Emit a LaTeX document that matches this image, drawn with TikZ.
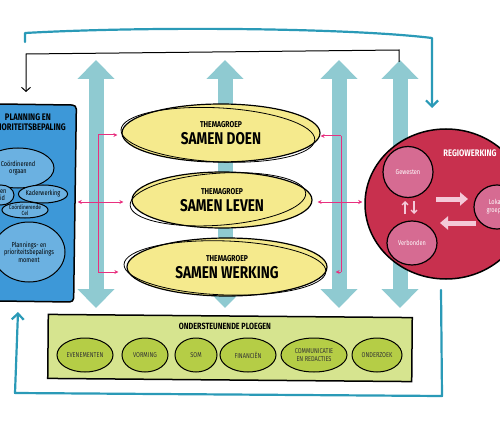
\documentclass[tikz,border=0pt]{standalone}
\usepackage{fontspec}
\setmainfont{Fira Sans}[FakeStretch=0.8]
\usetikzlibrary{shapes.geometric,arrows.meta}
\definecolor{tealarrow}{HTML}{8FCAD1}
\definecolor{tealline}{HTML}{2A9AB7}
\definecolor{planblue}{HTML}{3D98D8}
\definecolor{planlight}{HTML}{6BB1E1}
\definecolor{themayellow}{HTML}{F5EA8D}
\definecolor{regiored}{HTML}{C8304E}
\definecolor{regiopink}{HTML}{D66B92}
\definecolor{arrowpink}{HTML}{F4C9D8}
\definecolor{ploegbg}{HTML}{D6E48F}
\definecolor{ploegin}{HTML}{B5CD46}
\definecolor{linkpink}{HTML}{E8307F}

\begin{document}
\begin{tikzpicture}[x=1pt,y=-1pt,
    bigarrow/.style={line width=15pt,tealarrow,{Triangle[width=36pt,length=19pt]}-{Triangle[width=36pt,length=19pt]}},
    loopline/.style={line width=2.2pt,tealline,line join=round,line cap=round},
    thema/.style={ellipse,draw=black,line width=1.2pt,fill=themayellow,inner sep=0pt,align=center},
    scrib/.style={draw=black,line width=0.8pt},
    planin/.style={ellipse,draw=black,line width=1pt,fill=planlight,inner sep=0pt,align=center,font=\fontsize{7}{7.5}\selectfont},
    regioin/.style={ellipse,draw=black,line width=1.2pt,fill=regiopink,inner sep=0pt,align=center,text=white,font=\fontsize{7}{8}\selectfont},
    ploegin/.style={ellipse,draw=black,line width=1pt,fill=ploegin,inner sep=0pt,align=center,text=black!80,font=\fontsize{7}{7.5}\selectfont},
    link/.style={linkpink,line width=1pt,-{Stealth[length=4pt,width=4pt]}},
    pinkarrow/.style={arrowpink,line width=5pt,-{Triangle[width=13pt,length=8pt]}}]
    \clip (0,0) rectangle (500,422);
    \coordinate (a1t) at (96,60);
    \coordinate (a1b) at (96,308);
    \coordinate (a2t) at (225,60);
    \coordinate (a2b) at (225,308);
    \coordinate (a3t) at (339,60);
    \coordinate (a3b) at (339,308);
    \coordinate (a4t) at (400,60);
    \coordinate (a4b) at (400,308);
    \draw [bigarrow] (a1b) to (a1t);
    \draw [bigarrow] (a2b) to (a2t);
    \draw [bigarrow] (a3b) to (a3t);
    \draw [bigarrow] (a4b) to (a4t);
    \coordinate (t1) at (25,42);
    \coordinate (t2) at (25,33);
    \coordinate (t3) at (432,38);
    \coordinate (t4) at (432,108);
    \draw [loopline,-{Straight Barb[length=6pt,width=12pt]}] (t1) -- (t2) .. controls (150,26) and (350,28) .. (t3) -- (t4);
    \coordinate (b1) at (441,290);
    \coordinate (b2) at (442,396);
    \coordinate (b3) at (15,393);
    \coordinate (b4) at (18,312);
    \draw [loopline,-{Straight Barb[length=6pt,width=12pt]}] (b1) -- (b2) -- (b3) -- (b4);
    \coordinate (k1) at (399,62);
    \coordinate (k2) at (399,50);
    \coordinate (k3) at (26,54);
    \coordinate (k4) at (26,92);
    \draw [line width=1pt,-{Straight Barb[length=4pt,width=9pt]}] (k1) -- (k2) -- (k3) -- (k4);
    \node[draw=black,line width=1.5pt,fill=planblue,rounded corners=4pt,minimum width=80pt,minimum height=197pt,rotate=-0.8] (plan) at (35,203) {};
    \node[align=center,font=\bfseries\fontsize{9.5}{10.5}\selectfont] (plant) at (28,122) {PLANNING EN\\PRIORITEITSBEPALING};
    \node[planin,minimum width=72pt,minimum height=40pt] (coord) at (18,168) {Coördinerend\\orgaan};
    \node[planin,minimum width=26pt,minimum height=20pt] (visie) at (1,195) {e en\\eid};
    \node[planin,minimum width=40pt,minimum height=18pt] (kader) at (43,194) {Kaderwerking};
    \node[planin,minimum width=46pt,minimum height=16pt,font=\fontsize{6}{6.5}\selectfont] (cel) at (25,210) {Coördinerende\\Cel};
    \node[planin,minimum width=72pt,minimum height=60pt] (moment) at (29,252) {Plannings- en\\prioriteitsbepalings\\moment};
    \node[thema,minimum width=198pt,minimum height=58pt] (doen) at (221,133) {{\bfseries\fontsize{8.5}{9}\selectfont THEMAGROEP}\\[4pt]{\bfseries\fontsize{17}{18}\selectfont SAMEN DOEN}};
    \node[thema,minimum width=180pt,minimum height=56pt] (leven) at (222,200) {{\bfseries\fontsize{8.5}{9}\selectfont THEMAGROEP}\\[4pt]{\bfseries\fontsize{17}{18}\selectfont SAMEN LEVEN}};
    \node[thema,minimum width=200pt,minimum height=58pt] (werking) at (227,267) {{\bfseries\fontsize{8.5}{9}\selectfont THEMAGROEP}\\[4pt]{\bfseries\fontsize{17}{18}\selectfont SAMEN WERKING}};
    \draw [scrib,rotate around={-3:(doen.center)}] (doen.center) ++(-3,2) ellipse [x radius=97pt,y radius=27pt];
    \draw [scrib,rotate around={4:(leven.center)}] (leven.center) ++(-4,-1) ellipse [x radius=88pt,y radius=26pt];
    \draw [scrib,rotate around={-2:(werking.center)}] (werking.center) ++(-2,1) ellipse [x radius=101pt,y radius=27pt];
    \node[ellipse,draw=black,line width=1.5pt,fill=regiored,minimum width=162pt,minimum height=150pt] (regio) at (446,204) {};
    \node[text=white,font=\bfseries\fontsize{9.5}{10}\selectfont] (regiot) at (470,153) {REGIOWERKING};
    \node[regioin,minimum width=50pt,minimum height=51pt] (gewest) at (408,172) {Gewesten};
    \node[regioin,minimum width=50pt,minimum height=44pt] (verbond) at (412,243) {Verbonden};
    \node[regioin,minimum width=46pt,minimum height=44pt] (lokaal) at (497,207) {Lokale\\groepen};
    \coordinate (u1) at (405,214);
    \coordinate (u2) at (405,201);
    \coordinate (d1) at (414,201);
    \coordinate (d2) at (414,214);
    \draw [arrowpink,line width=1.3pt,-{Straight Barb[length=3pt,width=6pt]}] (u1) -- (u2);
    \draw [arrowpink,line width=1.3pt,-{Straight Barb[length=3pt,width=6pt]}] (d1) -- (d2);
    \coordinate (r1) at (436,199);
    \coordinate (r2) at (468,199);
    \coordinate (l1) at (476,223);
    \coordinate (l2) at (440,223);
    \draw [pinkarrow] (r1) -- (r2);
    \draw [pinkarrow] (l1) -- (l2);
    \coordinate (lt) at (98,135);
    \coordinate (lm) at (98,202);
    \coordinate (lb) at (98,272);
    \coordinate (rt) at (341,136);
    \coordinate (rm) at (341,202);
    \coordinate (rb) at (341,272);
    \draw [linkpink,line width=1pt] (lt) -- (lb);
    \draw [linkpink,line width=1pt] (rt) -- (rb);
    \draw [link,shorten >=4pt] (lt) -- (lt -| doen.west);
    \draw [link,shorten >=2pt] (lm) -- (lm -| plan.east);
    \draw [link,shorten >=8pt] (lm) -- (lm -| leven.west);
    \draw [link,shorten >=8pt] (lb) -- (lb -| werking.west);
    \draw [link] (rt) -- (rt -| doen.east);
    \draw [link,shorten >=5pt] (rm) -- (rm -| leven.east);
    \draw [link,shorten >=2pt] (rm) -- (rm -| regio.west);
    \draw [link,shorten >=8pt] (rb) -- (rb -| werking.east);
    \node[draw=black,line width=1.5pt,fill=ploegbg,minimum width=364pt,minimum height=64pt,rotate=-0.5] (ploeg) at (230,348) {};
    \node[font=\bfseries\fontsize{9}{10}\selectfont] (ploegt) at (225,326) {ONDERSTEUNENDE PLOEGEN};
    \node[ploegin,minimum width=56pt,minimum height=34pt] (event) at (85,355) {EVENEMENTEN};
    \node[ploegin,minimum width=46pt,minimum height=34pt] (vorm) at (145,355) {VORMING};
    \node[ploegin,minimum width=42pt,minimum height=34pt] (som) at (196,355) {SOM};
    \node[ploegin,minimum width=56pt,minimum height=34pt] (fin) at (248,355) {FINANCIËN};
    \node[ploegin,minimum width=66pt,minimum height=34pt] (comm) at (314,355) {COMMUNICATIE\\EN REDACTIES};
    \node[ploegin,minimum width=50pt,minimum height=34pt] (onder) at (377,355) {ONDERZOEK};
\end{tikzpicture}
\end{document}
